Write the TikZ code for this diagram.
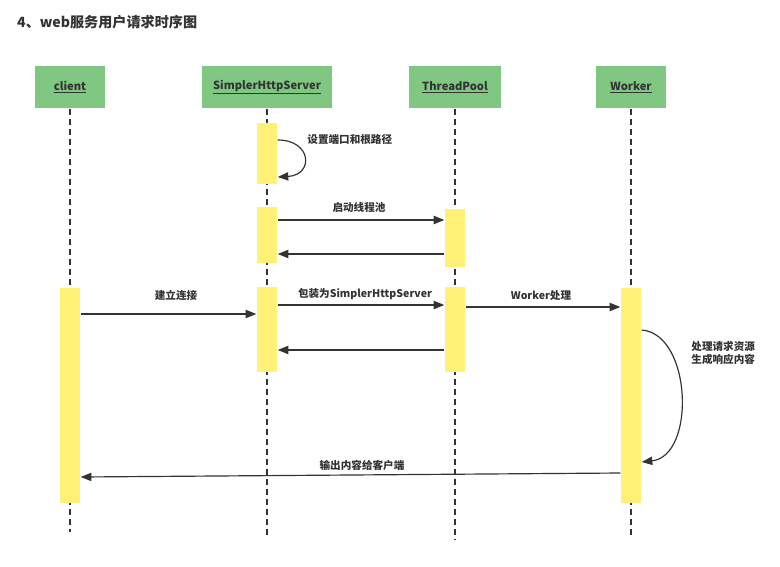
\documentclass[tikz,border=0pt]{standalone}
\usepackage{fontspec}
\setmainfont{Noto Sans CJK SC}
\usetikzlibrary{arrows.meta}
\definecolor{boxgreen}{HTML}{80C882}
\definecolor{baryellow}{HTML}{FFF176}
\definecolor{ink}{HTML}{333333}
\tikzset{
  head/.style={fill=boxgreen, minimum width=59.5pt, minimum height=36.5pt, inner sep=0pt, text=ink, font=\fontsize{9.5}{11}\selectfont\bfseries},
  bar/.style={fill=baryellow, minimum width=17.8pt, inner sep=0pt, anchor=north},
  life/.style={ink, line width=1.1pt, dash pattern=on 5pt off 3.5pt},
  msg/.style={ink, line width=1pt, -{Triangle[length=9pt, width=7pt]}},
  lbl/.style={text=ink, font=\fontsize{9}{11}\selectfont\bfseries, inner sep=1pt}
}
\begin{document}
\begin{tikzpicture}[x=0.85pt, y=-0.85pt]
  \useasboundingbox (0,0) rectangle (780,566);

  % Title
  \node[anchor=west, text=ink, font=\fontsize{12}{14}\selectfont\bfseries] (title) at (13,22) {4、web服务用户请求时序图};

  % Participants
  \node[head] (client) at (70,87) {\underline{client}};
  \node[head, minimum width=109.7pt] (server) at (267,87) {\underline{SimplerHttpServer}};
  \node[head, minimum width=79pt] (pool) at (455,87) {\underline{ThreadPool}};
  \node[head] (worker) at (631,87) {\underline{Worker}};

  % Lifelines
  \draw[life] (client.south) -- (client |- 0,532);
  \draw[life] (server.south) -- (server |- 0,538);
  \draw[life] (pool.south) -- (pool |- 0,540);
  \draw[life] (worker.south) -- (worker |- 0,537);

  % Activation bars
  \node[bar, minimum height=51.9pt] (sb1) at (267,123) {};
  \node[bar, minimum height=47.6pt] (sb2) at (267,207) {};
  \node[bar, minimum height=49.3pt] (pb1) at (455,209) {};
  \node[bar, minimum height=182.8pt] (cb) at (70,288) {};
  \node[bar, minimum height=72.3pt] (sb3) at (267,287) {};
  \node[bar, minimum height=72.3pt] (pb2) at (455,287) {};
  \node[bar, minimum height=182.8pt] (wb) at (631,288) {};

  % Server setup
  \draw[msg] (sb1.east |- 0,140) .. controls (312,140) and (314,175) .. (sb1.east |- 0,177);
  \node[lbl, anchor=west] (setup) at (306,139) {设置端口和根路径};

  % Start thread pool
  \draw[msg] (sb2.east |- 0,220) -- (pb1.west |- 0,220);
  \node[lbl] (start) at (359,207) {启动线程池};
  \draw[msg] (pb1.west |- 0,254) -- (sb2.east |- 0,254);

  % Request
  \draw[msg] (cb.east |- 0,314) -- (sb3.west |- 0,314);
  \node[lbl] (connect) at (176,295) {建立连接};
  \draw[msg] (sb3.east |- 0,305) -- (pb2.west |- 0,305);
  \node[lbl] (wrap) at (365,294) {包装为SimplerHttpServer};
  \draw[msg] (pb2.west |- 0,350) -- (sb3.east |- 0,350);
  \draw[msg] (pb2.east |- 0,307) -- (wb.west |- 0,307);
  \node[lbl] (handle) at (541,295) {Worker处理};

  % Worker processing
  \draw[msg] (wb.east |- 0,330) .. controls (692,334) and (696,456) .. (wb.east |- 0,462);
  \node[lbl, anchor=west, align=left] (proc) at (690,353) {处理请求资源\\生成响应内容};

  % Response
  \draw[msg] (wb.west |- 0,473) -- (cb.east |- 0,477);
  \node[lbl] (output) at (362,465) {输出内容给客户端};
\end{tikzpicture}
\end{document}
